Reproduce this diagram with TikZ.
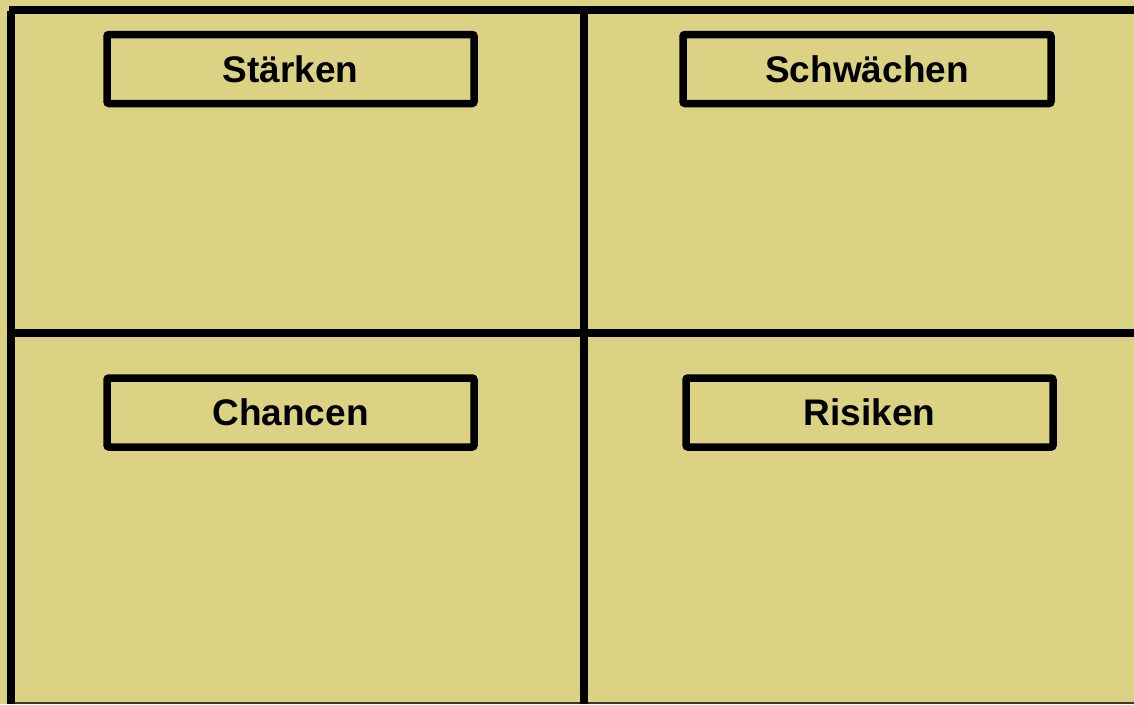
\documentclass[tikz,border=0pt]{standalone}
\usepackage{fontspec}
\setmainfont{Liberation Sans}
\definecolor{bgolive}{RGB}{219,211,131}
\definecolor{edgegrey}{RGB}{60,58,40}
\tikzset{
  heading/.style={draw=black, line width=7.5pt, rounded corners=2pt, minimum height=69pt,
    inner sep=0pt, font=\fontsize{37}{41}\selectfont\bfseries, text=black},
  gridline/.style={draw=black, line width=8pt}
}
\begin{document}
\begin{tikzpicture}[x=1pt,y=-1pt]
\useasboundingbox (0,0) rectangle (1134,704);
\fill[bgolive] (0,0) rectangle (1134,704);
% frame and grid
\coordinate (tl) at (9,10);
\coordinate (tr) at (1134,10);
\coordinate (lt) at (11,11);
\coordinate (lb) at (11,704);
\coordinate (mt) at (584,10);
\coordinate (mb) at (584,704);
\coordinate (hl) at (11,333);
\coordinate (hr) at (1134,333);
\coordinate (bl) at (15,703);
\coordinate (br) at (1134,703);
\draw[edgegrey, line width=1.2pt] (bl) -- (br);
\draw[gridline] (tl) -- (tr);
\draw[gridline] (lt) -- (lb);
\draw[gridline] (mt) -- (mb);
\draw[gridline] (hl) -- (hr);
% headings
\node[heading, minimum width=367pt] (s) at (290.5,69) {Stärken};
\node[heading, minimum width=368pt] (w) at (867,69) {Schwächen};
\node[heading, minimum width=367pt] (c) at (290.5,412.5) {Chancen};
\node[heading, minimum width=367pt] (r) at (869.5,412.5) {Risiken};
\end{tikzpicture}
\end{document}
